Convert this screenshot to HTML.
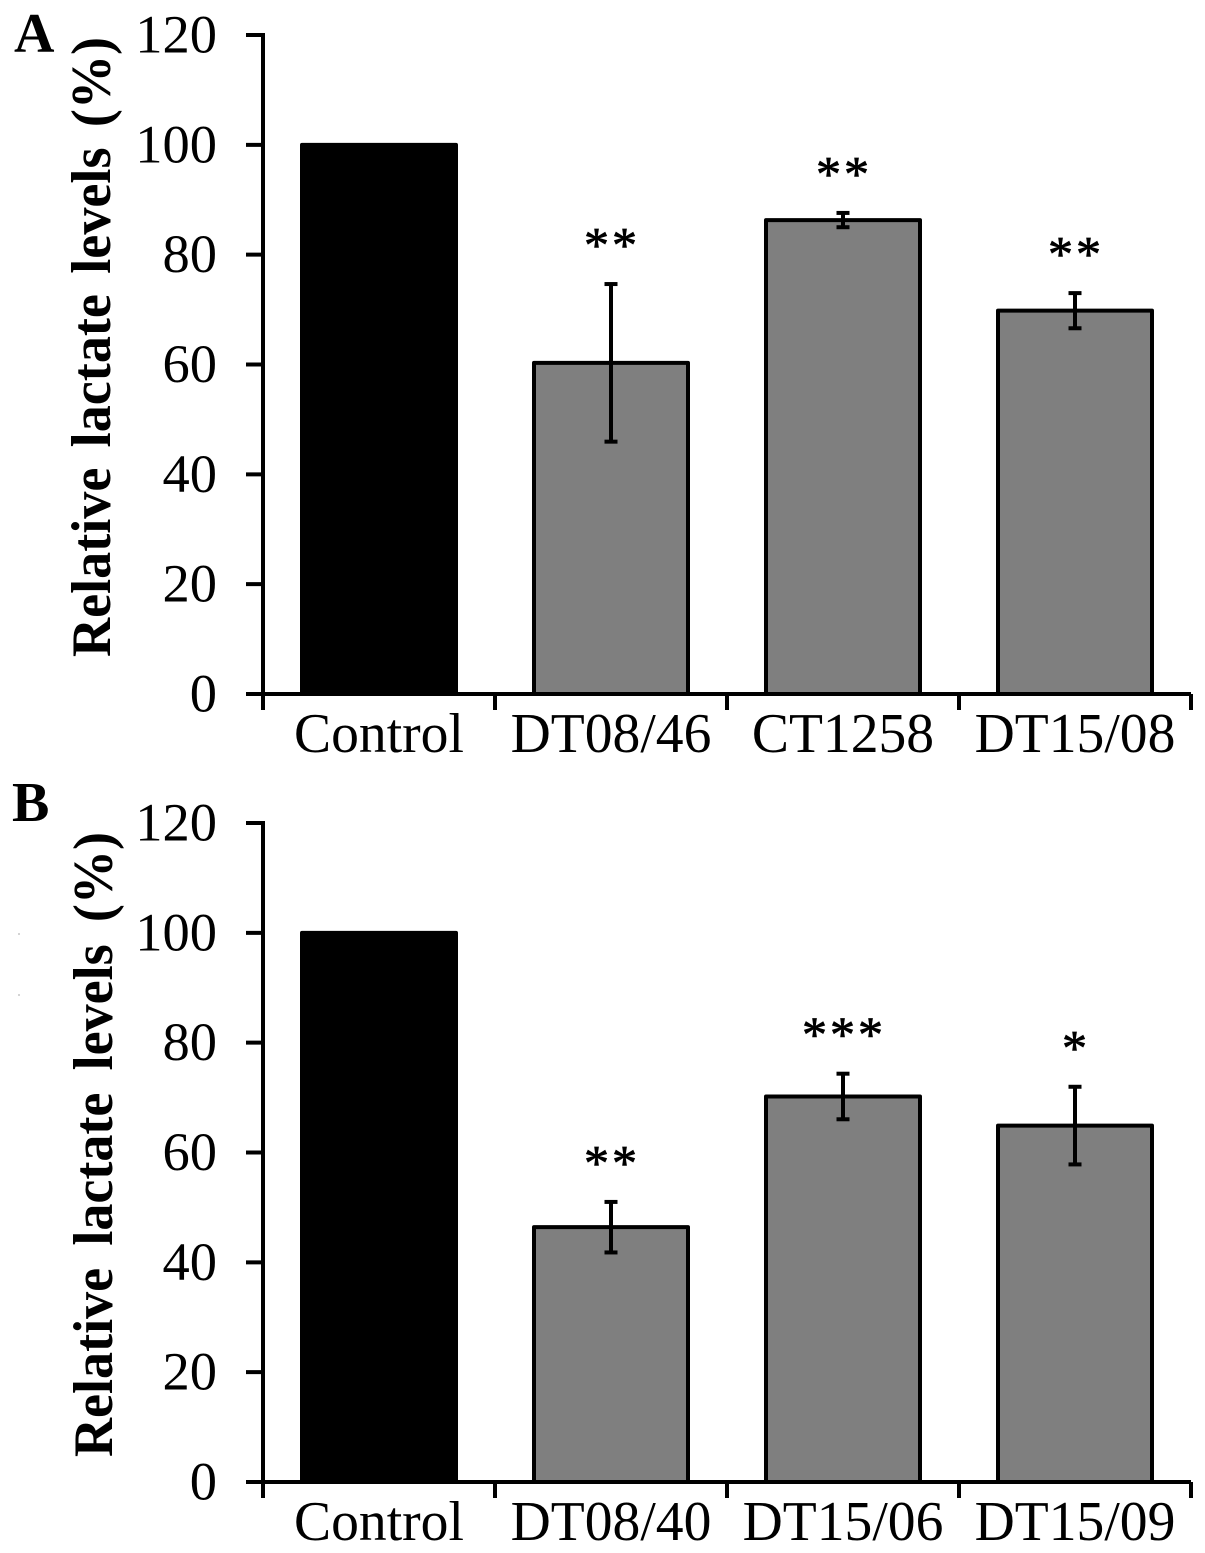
<!DOCTYPE html>
<html>
<head>
<meta charset="utf-8">
<style>
html,body{margin:0;padding:0;background:#fff;}
svg{display:block;font-family:"Liberation Serif",serif;}
</style>
</head>
<body>
<svg id="chart" width="1205" height="1553" viewBox="0 0 1205 1553" xmlns="http://www.w3.org/2000/svg"></svg>
<script>
var yTicks = [0, 20, 40, 60, 80, 100, 120];
var panelALabel = "A";
var panelACategories = ["Control", "DT08/46", "CT1258", "DT15/08"];
var panelAValues = [100, 60.3, 86.3, 69.8];
var panelAErrors = [0, 14.35, 1.3, 3.2];
var panelASig = ["", "**", "**", "**"];
var panelBLabel = "B";
var panelBCategories = ["Control", "DT08/40", "DT15/06", "DT15/09"];
var panelBValues = [100, 46.4, 70.2, 64.9];
var panelBErrors = [0, 4.6, 4.15, 7.07];
var panelBSig = ["", "**", "***", "*"];

var svg = document.getElementById('chart');
var NS = 'http://www.w3.org/2000/svg';
function add(tag, attrs, name, text) {
  var el = document.createElementNS(NS, tag);
  for (var k in attrs) el.setAttribute(k, attrs[k]);
  
  
  if (text !== undefined) el.textContent = text;
  svg.appendChild(el);
  return el;
}
function drawPanel(p, cfg) {
  var xLeft = 263, xRight = 1191, y0 = cfg.y0, yTop = cfg.yTop;
  function yScale(v) { return y0 + (yTop - y0) * v / 120; }
  var band = (xRight - xLeft) / cfg.categories.length;
  function xCenter(i) { return xLeft + band * (i + 0.5); }
  var bw = 154;
  add('text', {x: cfg.labelX, y: cfg.labelY, 'font-size': 56, 'font-weight': 'bold'}, p + '-panel-label', cfg.label);
  add('text', {x: cfg.titleX, y: cfg.titleY, 'font-size': 56, 'font-weight': 'bold', 'text-anchor': 'middle', style: 'word-spacing:' + cfg.titleGap + 'px', transform: 'rotate(-90 ' + cfg.titleX + ' ' + cfg.titleY + ')', textLength: cfg.titleLen, lengthAdjust: 'spacingAndGlyphs'}, p + '-y-axis-title', cfg.title);
  cfg.categories.forEach(function (c, i) {
    var cx = xCenter(i), top = yScale(cfg.values[i]), fill = i === 0 ? '#000000' : '#7f7f7f';
    add('rect', {x: cx - bw / 2, y: top, width: bw, height: y0 - top, fill: fill, stroke: '#000', 'stroke-width': 4, 'stroke-linejoin': 'round'}, p + '-bar-' + c.toLowerCase().replace('/', '-'));
    if (cfg.errors[i] > 0) {
      var yHi = yScale(cfg.values[i] + cfg.errors[i]), yLo = yScale(cfg.values[i] - cfg.errors[i]);
      add('line', {x1: cx, x2: cx, y1: yHi, y2: yLo, stroke: '#000', 'stroke-width': 4}, p + '-error-bar-' + i);
      add('line', {x1: cx - 6.5, x2: cx + 6.5, y1: yHi, y2: yHi, stroke: '#000', 'stroke-width': 4}, p + '-error-cap-top-' + i);
      add('line', {x1: cx - 6.5, x2: cx + 6.5, y1: yLo, y2: yLo, stroke: '#000', 'stroke-width': 4}, p + '-error-cap-bottom-' + i);
    }
    if (cfg.sig[i]) {
      var baseY = cfg.errors[i] > 0 ? yScale(cfg.values[i] + cfg.errors[i]) : top;
      add('text', {x: cx + 1, y: baseY - 30, 'font-size': 50, 'text-anchor': 'middle', 'letter-spacing': 3, dy: '0.15em', stroke: '#000', 'stroke-width': 0.8}, p + '-significance-' + i, cfg.sig[i]);
    }
    add('text', {x: cx, y: y0 + 58, 'font-size': 55.6, 'text-anchor': 'middle'}, p + '-x-label-' + i, c);
  });
  add('line', {x1: xLeft, x2: xLeft, y1: yTop - 2, y2: y0, stroke: '#000', 'stroke-width': 4}, p + '-y-axis');
  add('line', {x1: xLeft - 17, x2: xRight, y1: y0, y2: y0, stroke: '#000', 'stroke-width': 4}, p + '-x-axis');
  yTicks.forEach(function (t) {
    var y = yScale(t);
    add('line', {x1: xLeft - 17, x2: xLeft, y1: y, y2: y, stroke: '#000', 'stroke-width': 4}, p + '-y-tick-' + t);
    add('text', {x: 217, y: y + 17.5, 'font-size': 54.5, 'text-anchor': 'end'}, p + '-y-tick-label-' + t, String(t));
  });
  for (var i = 0; i <= cfg.categories.length; i++) {
    var x = xLeft + band * i;
    add('line', {x1: x, x2: x, y1: y0, y2: y0 + 16, stroke: '#000', 'stroke-width': 4}, p + '-x-tick-' + i);
  }
}
drawPanel('panel-a', {label: panelALabel, labelX: 14, labelY: 52, y0: 694, yTop: 35, titleX: 110, titleY: 347, titleGap: 7, title: 'Relative lactate levels (%)', titleLen: 620, categories: panelACategories, values: panelAValues, errors: panelAErrors, sig: panelASig});
drawPanel('panel-b', {label: panelBLabel, labelX: 12, labelY: 821, y0: 1482, yTop: 823, titleX: 112, titleY: 1144.5, titleGap: 9, title: 'Relative lactate levels (%)', titleLen: 625, categories: panelBCategories, values: panelBValues, errors: panelBErrors, sig: panelBSig});
add('rect', {x: 18.5, y: 933.5, width: 1, height: 1, fill: '#555'}, 'speck-upper');
add('rect', {x: 18.5, y: 994.5, width: 1, height: 1, fill: '#555'}, 'speck-lower');
</script>
</body>
</html>
